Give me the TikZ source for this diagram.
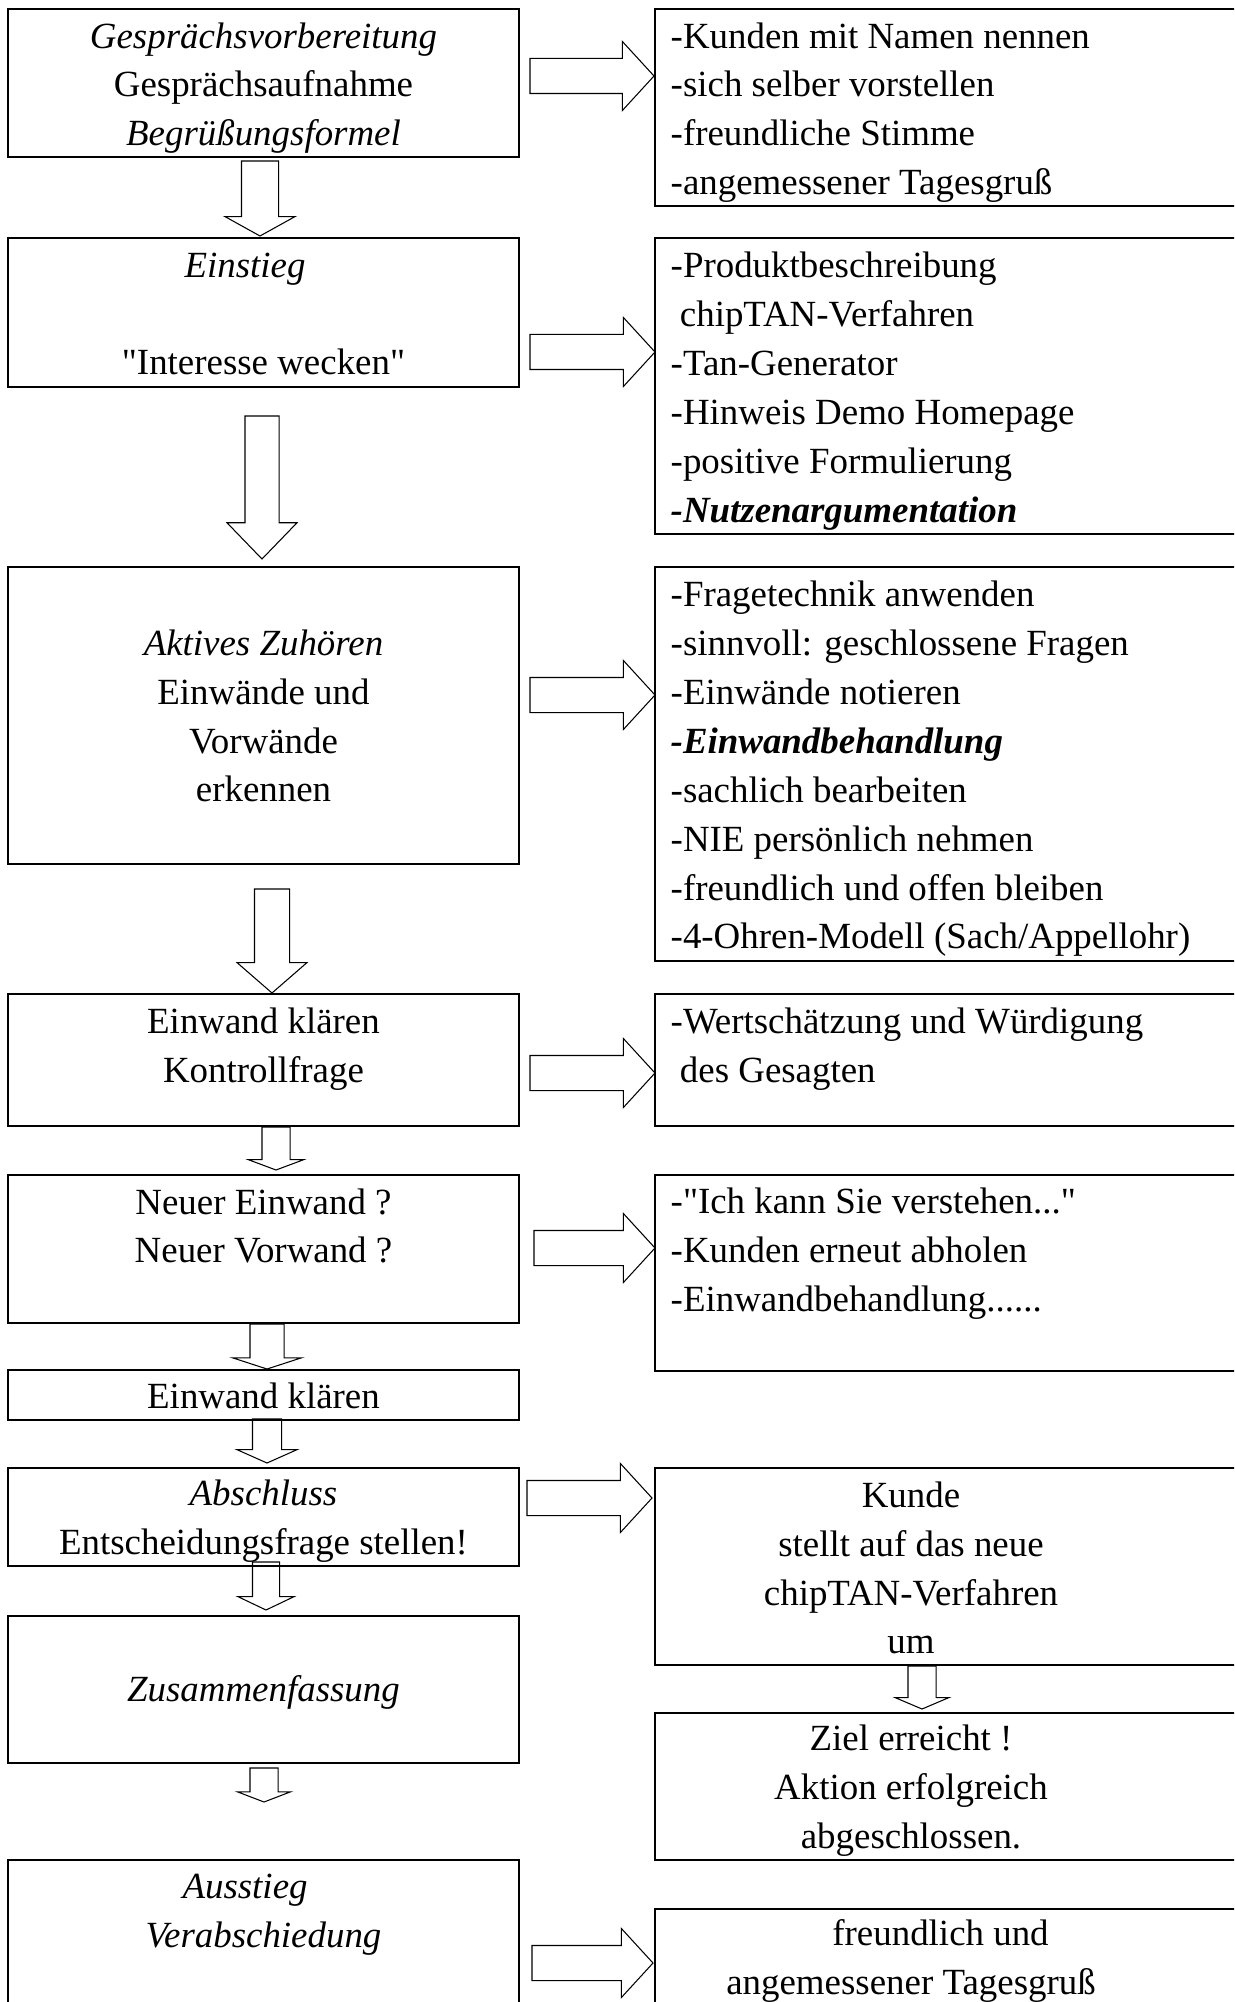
\documentclass[tikz,border=0pt]{standalone}
\usepackage{fontspec}
\setmainfont{Liberation Serif}[Ligatures=TeXOff]
\usetikzlibrary{shapes.arrows}

\tikzset{
  kasten/.style={draw, rectangle, line width=0.8pt, anchor=north west, inner sep=0pt, outer sep=0pt},
  lkasten/.style={kasten, minimum width=51.1mm},
  rkasten/.style={kasten, minimum width=59mm},
  txt/.style={font=\fontsize{10.5}{13.9}\selectfont, inner sep=0pt},
  ltxt/.style={txt, align=center},
  rtxt/.style={txt, align=left, anchor=west},
  darrow/.style={single arrow, draw, line width=0.3pt, inner xsep=0pt, outer sep=0pt, rotate=-90, anchor=tip},
  rarrow/.style={single arrow, draw, line width=0.3pt, single arrow head extend=1.7mm, inner xsep=0pt, inner ysep=1.7mm, outer sep=0pt, anchor=tip, single arrow tip angle=95},
}

\begin{document}
\begin{tikzpicture}[x=0.1mm, y=-0.1mm]
    \useasboundingbox (0,0) rectangle (1234,2002);
    \clip (0,0) rectangle (1234,2002);

    % linke Spalte
    \node[lkasten, minimum height=14.8mm] (b1) at (8,9) {};
    \node[lkasten, minimum height=14.9mm] (b2) at (8,238) {};
    \node[lkasten, minimum height=29.7mm] (b3) at (8,567) {};
    \node[lkasten, minimum height=13.2mm] (b4) at (8,994) {};
    \node[lkasten, minimum height=14.8mm] (b5) at (8,1175) {};
    \node[lkasten, minimum height=5mm] (b6) at (8,1370) {};
    \node[lkasten, minimum height=9.8mm] (b7) at (8,1468) {};
    \node[lkasten, minimum height=14.7mm] (b8) at (8,1616) {};
    \node[lkasten, minimum height=16mm] (b9) at (8,1860) {};

    \node[ltxt] (t1) at (263.5,88) {\textit{Gesprächsvorbereitung}\\Gesprächsaufnahme\\\textit{Begrüßungsformel}};
    \node[ltxt] (t2) at (263.5,314) {\textit{Einstieg}\hspace*{1em}\\[4.9mm]"Interesse wecken"};
    \node[ltxt] (t3) at (263.5,716) {\textit{Aktives Zuhören}\\Einwände und\\Vorwände\\erkennen};
    \node[ltxt] (t4) at (263.5,1049) {Einwand klären\\Kontrollfrage};
    \node[ltxt] (t5) at (263.5,1226) {Neuer Einwand ?\\Neuer Vorwand ?};
    \node[ltxt] (t6) at (263.5,1396) {Einwand klären};
    \node[ltxt] (t7) at (263.5,1521) {\textit{Abschluss}\\Entscheidungsfrage stellen!};
    \node[ltxt] (t8) at (263.5,1692) {\textit{Zusammenfassung}};
    \node[ltxt] (t9) at (263.5,1915) {\textit{Ausstieg}\hspace*{1em}\\\textit{Verabschiedung}};

    % rechte Spalte
    \node[rkasten, minimum height=19.7mm] (r1) at (655,9) {};
    \node[rkasten, minimum height=29.6mm] (r2) at (655,238) {};
    \node[rkasten, minimum height=39.4mm] (r3) at (655,567) {};
    \node[rkasten, minimum height=13.2mm] (r4) at (655,994) {};
    \node[rkasten, minimum height=19.6mm] (r5) at (655,1175) {};
    \node[rkasten, minimum height=19.7mm] (r6) at (655,1468) {};
    \node[rkasten, minimum height=14.7mm] (r7) at (655,1713) {};
    \node[rkasten, minimum height=11mm] (r8) at (655,1909) {};

    \node[rtxt] (s1) at (670,112.5) {-Kunden mit Namen nennen\\-sich selber vorstellen\\-freundliche Stimme\\-angemessener Tagesgruß};
    \node[rtxt] (s2) at (670,391) {-Produktbeschreibung\\~chipTAN-Verfahren\\-Tan-Generator\\-Hinweis Demo Homepage\\-positive Formulierung\\\textbf{\textit{-Nutzenargumentation}}};
    \node[rtxt] (s3) at (670,769) {-Fragetechnik anwenden\\-sinnvoll: geschlossene Fragen\\-Einwände notieren\\\textbf{\textit{-Einwandbehandlung}}\\-sachlich bearbeiten\\-NIE persönlich nehmen\\-freundlich und offen bleiben\\-4-Ohren-Modell (Sach/Appellohr)};
    \node[rtxt] (s4) at (670,1049) {-Wertschätzung und Würdigung\\~des Gesagten};
    \node[rtxt] (s5) at (670,1254) {-"Ich kann Sie verstehen..."\\-Kunden erneut abholen\\-Einwandbehandlung......};
    \node[ltxt] (s6) at (911,1568) {Kunde\\stellt auf das neue\\chipTAN-Verfahren\\um};
    \node[ltxt] (s7) at (911,1791) {Ziel erreicht !\\Aktion erfolgreich\\abgeschlossen.};
    \node[ltxt] (s8) at (911,1961) {\hspace*{1.6em}freundlich und\\angemessener Tagesgruß};

    % Pfeile nach unten
    \node[darrow, minimum height=7.5mm, inner ysep=1.8mm, single arrow head extend=1.65mm, single arrow tip angle=122] (p1) at (260,236) {};
    \node[darrow, minimum height=14.3mm, inner ysep=1.65mm, single arrow head extend=1.8mm, single arrow tip angle=88] (p2) at (262,559) {};
    \node[darrow, minimum height=10.4mm, inner ysep=1.7mm, single arrow head extend=1.75mm, single arrow tip angle=98] (p3) at (272,993) {};
    \node[darrow, minimum height=4.3mm, inner ysep=1.35mm, single arrow head extend=1.35mm, single arrow tip angle=139] (p4) at (276,1170) {};
    \node[darrow, minimum height=4.5mm, inner ysep=1.65mm, single arrow head extend=1.75mm, single arrow tip angle=144] (p5) at (267,1369) {};
    \node[darrow, minimum height=4.4mm, inner ysep=1.4mm, single arrow head extend=1.55mm, single arrow tip angle=132] (p6) at (267,1463) {};
    \node[darrow, minimum height=4.8mm, inner ysep=1.3mm, single arrow head extend=1.45mm, single arrow tip angle=129] (p7) at (266,1610) {};
    \node[darrow, minimum height=3.4mm, inner ysep=1.35mm, single arrow head extend=1.25mm, single arrow tip angle=138] (p8) at (264,1802) {};
    \node[darrow, minimum height=4.3mm, inner ysep=1.35mm, single arrow head extend=1.3mm, single arrow tip angle=134] (p9) at (922,1709) {};

    % Pfeile nach rechts
    \node[rarrow, minimum height=12.4mm] (q1) at (654,76) {};
    \node[rarrow, minimum height=12.5mm] (q2) at (655,352) {};
    \node[rarrow, minimum height=12.5mm] (q3) at (655,695) {};
    \node[rarrow, minimum height=12.5mm] (q4) at (655,1073) {};
    \node[rarrow, minimum height=12.1mm] (q5) at (655,1248) {};
    \node[rarrow, minimum height=12.5mm] (q6) at (652,1498) {};
    \node[rarrow, minimum height=12.1mm] (q7) at (653,1963) {};
  \end{tikzpicture}
\end{document}
